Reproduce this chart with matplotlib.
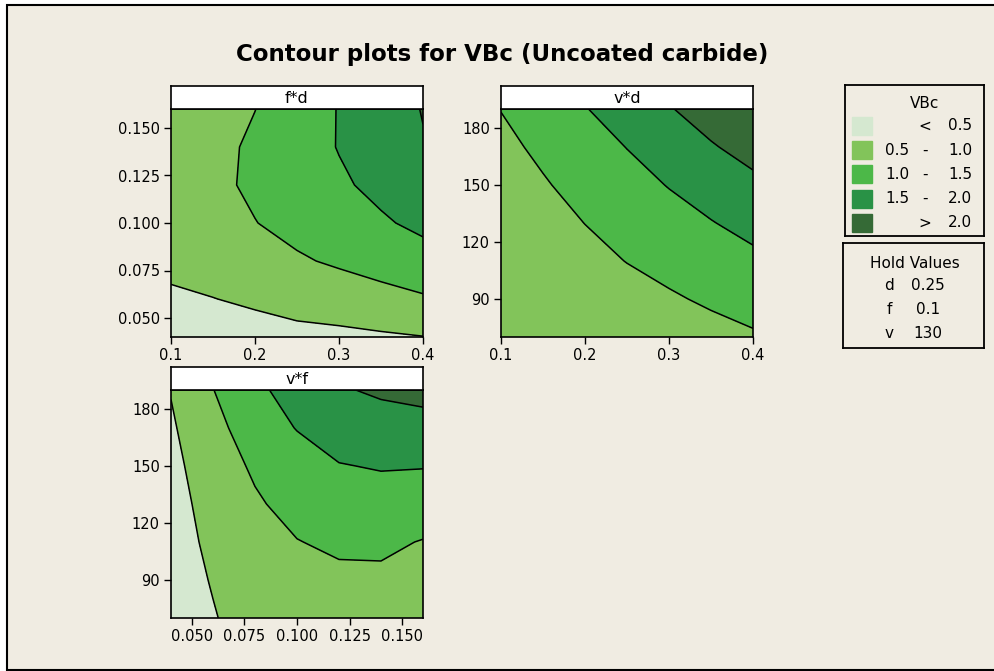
import numpy as np
import matplotlib
matplotlib.use('Agg')
import matplotlib.pyplot as plt
from matplotlib.patches import Rectangle

# grid axes of the three response surfaces
d_vals = [0.10, 0.15, 0.20, 0.25, 0.30, 0.35, 0.40]
f_vals = [0.04, 0.06, 0.08, 0.10, 0.12, 0.14, 0.16]
v_vals = [70, 90, 110, 130, 150, 170, 190]

# VBc, rows = y variable, cols = x variable
vbc_fd = [[0.32, 0.32, 0.30, 0.36, 0.39, 0.44, 0.49],   # f=0.04
          [0.45, 0.49, 0.58, 0.69, 0.76, 0.85, 0.95],
          [0.58, 0.72, 0.85, 0.95, 1.06, 1.18, 1.31],
          [0.70, 0.86, 0.99, 1.13, 1.28, 1.44, 1.61],
          [0.75, 0.91, 1.07, 1.24, 1.43, 1.62, 1.83],
          [0.70, 0.88, 1.07, 1.28, 1.52, 1.73, 1.97],
          [0.55, 0.77, 0.995, 1.24, 1.52, 1.77, 2.02]]  # f=0.16
vbc_vd = [[0.57, 0.61, 0.66, 0.72, 0.79, 0.86, 0.95],   # v=70
          [0.58, 0.65, 0.73, 0.84, 0.95, 1.06, 1.17],
          [0.62, 0.74, 0.87, 1.01, 1.13, 1.27, 1.40],
          [0.68, 0.84, 1.005, 1.16, 1.32, 1.48, 1.64],
          [0.78, 0.96, 1.15, 1.33, 1.52, 1.70, 1.89],
          [0.89, 1.09, 1.30, 1.51, 1.73, 1.96, 2.17],
          [1.01, 1.25, 1.48, 1.72, 1.97, 2.21, 2.45]]   # v=190
vbc_vf = [[0.33, 0.48, 0.64, 0.76, 0.85, 0.92, 0.99],   # v=70
          [0.35, 0.52, 0.70, 0.84, 0.90, 0.92, 0.93],
          [0.36, 0.57, 0.78, 0.985, 1.085, 1.08, 0.98],
          [0.35, 0.65, 0.94, 1.16, 1.29, 1.31, 1.25],
          [0.38, 0.75, 1.07, 1.27, 1.48, 1.53, 1.52],
          [0.44, 0.87, 1.22, 1.52, 1.71, 1.82, 1.83],
          [0.52, 0.99, 1.40, 1.69, 1.96, 2.06, 2.14]]   # v=190

levels = [-10, 0.5, 1.0, 1.5, 2.0, 10]
colors = ['#d5e8d0', '#82c45a', '#4cb848', '#299246', '#356a36']
legend_lo = ['', '0.5', '1.0', '1.5', '']
legend_mid = ['<', '-', '-', '-', '>']
legend_hi = ['0.5', '1.0', '1.5', '2.0', '2.0']
hold_names = ['d', 'f', 'v']
hold_values = ['0.25', '0.1', '130']

bg = '#f0ece2'
plt.rcParams['font.family'] = 'DejaVu Sans'
W, H = 995, 671
fig = plt.figure(figsize=(W / 100, H / 100), dpi=100, facecolor='white')

# beige page with black frame (open on the right)
fig.add_artist(Rectangle((7 / W, 1 - 670 / H), 1.0, 665 / H, transform=fig.transFigure,
                         facecolor=bg, edgecolor='black', lw=1.5, zorder=-5))


def px_axes(x0, y0, x1, y1):
    # axes from pixel box (top-left origin)
    return fig.add_axes([x0 / W, 1 - y1 / H, (x1 - x0) / W, (y1 - y0) / H])


def panel(x0, y0, x1, y1, xs, ys, z, label, xticks, xfmt, yticks, yfmt):
    ax = px_axes(x0, y0, x1, y1)
    ax.contourf(xs, ys, z, levels=levels, colors=colors)
    ax.contour(xs, ys, z, levels=levels[1:-1], colors='black', linewidths=1.1)
    ax.set_xlim(xs[0], xs[-1])
    ax.set_ylim(ys[0], ys[-1])
    ax.set_xticks(xticks)
    ax.set_xticklabels([xfmt % t for t in xticks])
    ax.set_yticks(yticks)
    ax.set_yticklabels([yfmt % t for t in yticks])
    ax.tick_params(direction='out', length=5, width=1, labelsize=10.5, pad=3)
    for s in ax.spines.values():
        s.set_linewidth(1.2)
    st = px_axes(x0, y0 - 23, x1, y0)
    st.set_facecolor('white')
    st.set_xticks([])
    st.set_yticks([])
    for s in st.spines.values():
        s.set_linewidth(1.2)
    st.text(0.5, 0.45, label, ha='center', va='center', fontsize=11.5, transform=st.transAxes)
    return ax


panel(171, 109, 423, 337, d_vals, f_vals, vbc_fd, 'f*d',
      [0.1, 0.2, 0.3, 0.4], '%.1f', [0.05, 0.075, 0.1, 0.125, 0.15], '%.3f')
panel(501, 109, 753, 337, d_vals, v_vals, vbc_vd, 'v*d',
      [0.1, 0.2, 0.3, 0.4], '%.1f', [90, 120, 150, 180], '%d')
panel(171, 390, 423, 618, f_vals, v_vals, vbc_vf, 'v*f',
      [0.05, 0.075, 0.1, 0.125, 0.15], '%.3f', [90, 120, 150, 180], '%d')

fig.text(502 / W, 1 - 55 / H, 'Contour plots for VBc (Uncoated carbide)',
         ha='center', va='center', fontsize=16.5, fontweight='bold')

# legend box
lg = px_axes(845, 85, 984, 236)
lg.set_xlim(845, 984)
lg.set_ylim(236, 85)
lg.set_facecolor(bg)
lg.set_xticks([])
lg.set_yticks([])
for s in lg.spines.values():
    s.set_linewidth(1.3)
lg.text(925, 103, 'VBc', ha='center', va='center', fontsize=11)
for i, c in enumerate(colors):
    yc = 126 + i * 24.2
    lg.add_patch(Rectangle((852, yc - 9), 20, 18, color=c))
    lg.text(909, yc, legend_lo[i], ha='right', va='center', fontsize=11)
    lg.text(925, yc, legend_mid[i], ha='center', va='center', fontsize=11)
    lg.text(972, yc, legend_hi[i], ha='right', va='center', fontsize=11)

# hold values box
hv = px_axes(843, 243, 984, 348)
hv.set_xlim(843, 984)
hv.set_ylim(348, 243)
hv.set_facecolor(bg)
hv.set_xticks([])
hv.set_yticks([])
for s in hv.spines.values():
    s.set_linewidth(1.3)
hv.text(915, 263, 'Hold Values', ha='center', va='center', fontsize=11)
for i, (n, val) in enumerate(zip(hold_names, hold_values)):
    yc = 285 + i * 24.5
    hv.text(889, yc, n, ha='center', va='center', fontsize=11)
    hv.text(928, yc, val, ha='center', va='center', fontsize=11)

fig.savefig('out.png', dpi=100, facecolor='white')
